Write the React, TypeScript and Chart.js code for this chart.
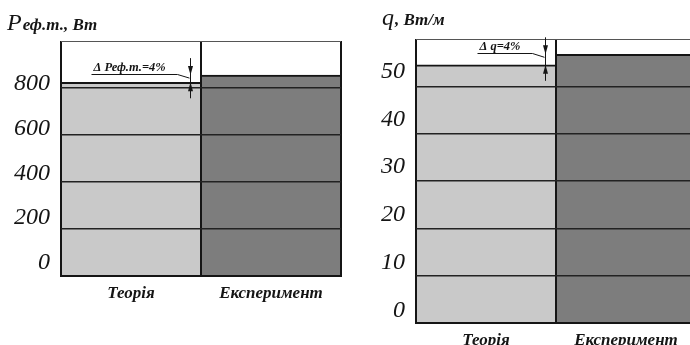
import React, { useEffect, useRef } from 'react';
import { Chart, registerables } from 'chart.js';

Chart.register(...registerables);

// ---- data ----
const categories = ['Теорія', 'Експеримент'];
const powerValues = [805, 837];
const heatValues = [51.4, 53.6];
const powerTickStep = 200;
const heatTickStep = 10;
const powerGridMax = 1000;
const heatGridMax = 60;
const powerTitle = ['Р', 'еф.т., Вт'];
const heatTitle = ['q', ', Вт/м'];
const powerNote = 'Δ Реф.т.=4%';
const heatNote = 'Δ q=4%';

const LIGHT = '#c9c9c9';
const DARK = '#7d7d7d';
const INK = '#151515';
const SERIF = '"Liberation Serif", "DejaVu Serif", serif';

const notePlugin = {
  id: 'deltaNote',
  afterDraw(chart: any, _args: any, o: any) {
    const { ctx, chartArea: ca } = chart;
    const meta = chart.getDatasetMeta(0);
    const t = meta.data[0] as any;
    const e = meta.data[1] as any;
    ctx.save();
    ctx.fillStyle = INK;
    ctx.textAlign = 'left';
    ctx.textBaseline = 'alphabetic';
    // axis title
    const tx = ca.left + o.titleDx;
    const ty = ca.top + o.titleDy;
    ctx.font = `italic 24px ${SERIF}`;
    ctx.fillText(o.title[0], tx, ty);
    const w = ctx.measureText(o.title[0]).width;
    ctx.font = `bold italic 17px ${SERIF}`;
    ctx.fillText(o.title[1], tx + w + 1, ty);

    // delta annotation
    const divX = t.x + t.width / 2;
    const ax = Math.round(divX - 11) + 0.5;
    const yE = e.y;
    const yT = t.y;
    ctx.strokeStyle = INK;
    ctx.lineWidth = 1;
    ctx.beginPath();
    ctx.moveTo(ax, yE - 17);
    ctx.lineTo(ax, yT + 16);
    ctx.stroke();
    // arrowheads
    ctx.beginPath();
    ctx.moveTo(ax, yE);
    ctx.lineTo(ax - 2.5, yE - 9);
    ctx.lineTo(ax + 2.5, yE - 9);
    ctx.closePath();
    ctx.fill();
    ctx.beginPath();
    ctx.moveTo(ax, yT);
    ctx.lineTo(ax - 2.5, yT + 9);
    ctx.lineTo(ax + 2.5, yT + 9);
    ctx.closePath();
    ctx.fill();
    // leader line
    const lx = ax - o.leaderLen;
    const ly = Math.round(yE - 1) + 0.5;
    ctx.beginPath();
    ctx.moveTo(lx, ly);
    ctx.lineTo(ax - 13, ly);
    ctx.lineTo(ax - 1, yE + 3);
    ctx.stroke();
    ctx.font = `bold italic 12.5px ${SERIF}`;
    ctx.fillText(o.note, lx + 2, yE - 4);
    ctx.restore();
  },
};

type Cfg = {
  values: number[];
  min: number;
  max: number;
  step: number;
  gridMax: number;
  title: string[];
  note: string;
  titleDx: number;
  titleDy: number;
  leaderLen: number;
  padTop: number;
  padBottom: number;
  width: number;
  height: number;
};

function BarPanel({ cfg }: { cfg: Cfg }) {
  const ref = useRef<HTMLCanvasElement | null>(null);
  useEffect(() => {
    if (!ref.current) return;
    const chart = new Chart(ref.current, {
      type: 'bar',
      data: {
        labels: categories,
        datasets: [
          {
            data: cfg.values,
            base: cfg.min,
            backgroundColor: [LIGHT, DARK],
            borderColor: INK,
            borderWidth: { top: 2, left: 0, right: 0, bottom: 0 },
            borderSkipped: false,
            categoryPercentage: 1,
            barPercentage: 1,
            yAxisID: 'y',
          } as any,
        ],
      },
      options: {
        responsive: false,
        animation: false,
        devicePixelRatio: 1,
        layout: { padding: { top: cfg.padTop, right: 4, bottom: cfg.padBottom, left: 0 } },
        plugins: {
          legend: { display: false },
          tooltip: { enabled: false },
          deltaNote: {
            title: cfg.title,
            note: cfg.note,
            titleDx: cfg.titleDx,
            titleDy: cfg.titleDy,
            leaderLen: cfg.leaderLen,
          },
        } as any,
        scales: {
          x: {
            offset: true,
            grid: { offset: true, display: true, drawTicks: false, color: INK, lineWidth: 2, z: 1 },
            border: { display: true, color: INK, width: 2, z: 2 },
            ticks: {
              color: INK,
              padding: 7,
              font: { family: SERIF, size: 17, style: 'italic', weight: 'bold' },
            },
            afterFit: (s: any) => {
              s.height = 30;
            },
          },
          y: {
            position: 'left',
            weight: 1,
            min: cfg.min,
            max: cfg.max,
            grid: { display: false, drawTicks: false },
            border: { display: false },
            ticks: {
              stepSize: cfg.step,
              includeBounds: false,
              padding: 11,
              color: INK,
              font: { family: SERIF, size: 24, style: 'italic' },
            },
            afterFit: (s: any) => {
              s.width = 61;
            },
          },
          g: {
            position: 'left',
            weight: 0,
            min: 0,
            max: cfg.gridMax,
            ticks: { display: false, stepSize: cfg.step },
            grid: {
              z: 1,
              drawTicks: false,
              color: (c: any) => (c.tick && c.tick.value === cfg.gridMax ? '#555' : '#222'),
              lineWidth: (c: any) =>
                c.tick && c.tick.value === 0 ? 2 : c.tick && c.tick.value === cfg.gridMax ? 1 : 1.5,
            },
            border: { display: false },
            afterFit: (s: any) => {
              s.width = 0;
            },
          },
        } as any,
      },
      plugins: [notePlugin as any],
    });
    return () => chart.destroy();
  }, [cfg]);
  return <canvas ref={ref} width={cfg.width} height={cfg.height} style={{ display: 'block' }} />;
}

const leftCfg: Cfg = {
  values: powerValues,
  min: -58,
  max: 989,
  step: powerTickStep,
  gridMax: powerGridMax,
  title: powerTitle,
  note: powerNote,
  titleDx: -54,
  titleDy: -11,
  leaderLen: 99,
  padTop: 41,
  padBottom: 39,
  width: 345,
  height: 345,
};

const rightCfg: Cfg = {
  values: heatValues,
  min: -2.6,
  max: 56.8,
  step: heatTickStep,
  gridMax: heatGridMax,
  title: heatTitle,
  note: heatNote,
  titleDx: -34,
  titleDy: -14,
  leaderLen: 68,
  padTop: 39,
  padBottom: 7,
  width: 345,
  height: 360,
};

export default function App() {
  return (
    <div
      style={{
        position: 'fixed',
        left: 0,
        top: 0,
        width: 690,
        height: 345,
        overflow: 'hidden',
        background: '#fff',
      }}
    >
      <div style={{ position: 'absolute', left: 0, top: 0 }}>
        <BarPanel cfg={leftCfg} />
      </div>
      <div style={{ position: 'absolute', left: 355, top: 0 }}>
        <BarPanel cfg={rightCfg} />
      </div>
    </div>
  );
}
